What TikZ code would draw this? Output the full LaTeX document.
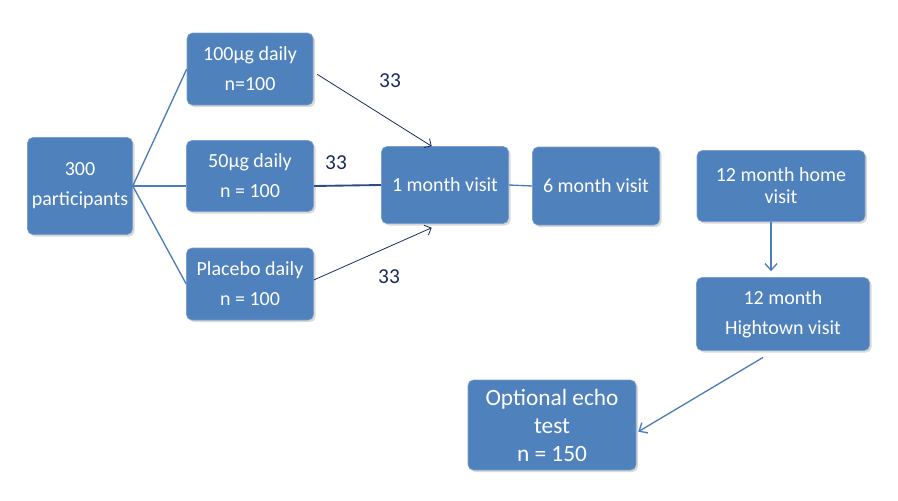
\documentclass[tikz,border=0pt]{standalone}
\usepackage{fontspec}
\setmainfont{Carlito}
\usetikzlibrary{shadows,arrows.meta}

\definecolor{boxblue}{HTML}{4F81BD}
\definecolor{linkblue}{HTML}{4A7EBB}
\definecolor{darkline}{HTML}{2C4D7F}
\definecolor{navy}{HTML}{1A2A5E}

\tikzset{
  stage/.style={draw=boxblue!75!white, fill=boxblue, rounded corners=4pt, text=white,
    align=center, inner sep=0pt, font=\fontsize{15}{22.5}\selectfont,
    drop shadow={opacity=0.3, shadow xshift=1.5pt, shadow yshift=-1.5pt}},
  link/.style={draw=linkblue, line width=1pt},
  feed/.style={draw=navy, line width=0.6pt, -{Straight Barb[length=4pt,width=8pt]}},
  count/.style={text=navy, font=\fontsize{16}{18}\selectfont}
}

\begin{document}
\begin{tikzpicture}[x=0.75pt, y=-0.75pt]
  \useasboundingbox (0,0) rectangle (898,500);

  % boxes
  \node[stage, minimum width=78.75pt, minimum height=72.75pt] (start) at (80,186) {300\\participants};
  \node[stage, minimum width=94.5pt, minimum height=54pt] (dose100) at (250,69) {100µg daily\\n=100};
  \node[stage, minimum width=95.25pt, minimum height=53.25pt] (dose50) at (250,176) {50µg daily\\n = 100};
  \node[stage, minimum width=95.25pt, minimum height=54pt] (placebo) at (250,284) {Placebo daily\\n = 100};
  \node[stage, minimum width=95.25pt, minimum height=57.75pt] (visit1) at (445,185) {1 month visit};
  \node[stage, minimum width=95.25pt, minimum height=58.5pt] (visit6) at (596,186) {6 month visit};
  \node[stage, minimum width=126pt, minimum height=53.25pt, font=\fontsize{15}{16.5}\selectfont] (home12) at (781,186) {12 month home\\visit};
  \node[stage, minimum width=129.75pt, minimum height=54.75pt] (town12) at (783,314) {12 month\\Hightown visit};
  \node[stage, minimum width=126pt, minimum height=67.5pt, font=\fontsize{17.5}{21}\selectfont] (echo) at (552,425) {Optional echo\\test\\n = 150};

  % counts
  \node[count] (c100) at (390,81) {33};
  \node[count] (c50) at (336,163) {33};
  \node[count] (cplc) at (389,277) {33};

  % connectors
  \draw[link] (start.east) -- (dose100.west);
  \draw[link] (start.east) -- (start.east -| dose50.west);
  \draw[link] (start.east) -- (placebo.west);
  \draw[feed] ([shift={(3pt,-4pt)}]dose100.east) -- ([xshift=-10pt]visit1.north);
  \draw[draw=darkline, line width=1.4pt] (dose50.east |- start.east) -- (visit1.west);
  \draw[feed] ([yshift=3pt]placebo.east) -- ([shift={(-10pt,-3pt)}]visit1.south);
  \draw[link] (visit1.east) -- (visit6.west);
  \draw[link, -{Straight Barb[length=5pt,width=9pt]}, shorten >=4.5pt]
    ([xshift=-7.5pt]home12.south) -- ([xshift=-7.5pt]home12.south |- town12.north);
  \draw[link, -{Straight Barb[length=5pt,width=9pt]}]
    ([shift={(-15pt,-5pt)}]town12.south) -- ([shift={(1.5pt,-5pt)}]echo.east);
\end{tikzpicture}
\end{document}
